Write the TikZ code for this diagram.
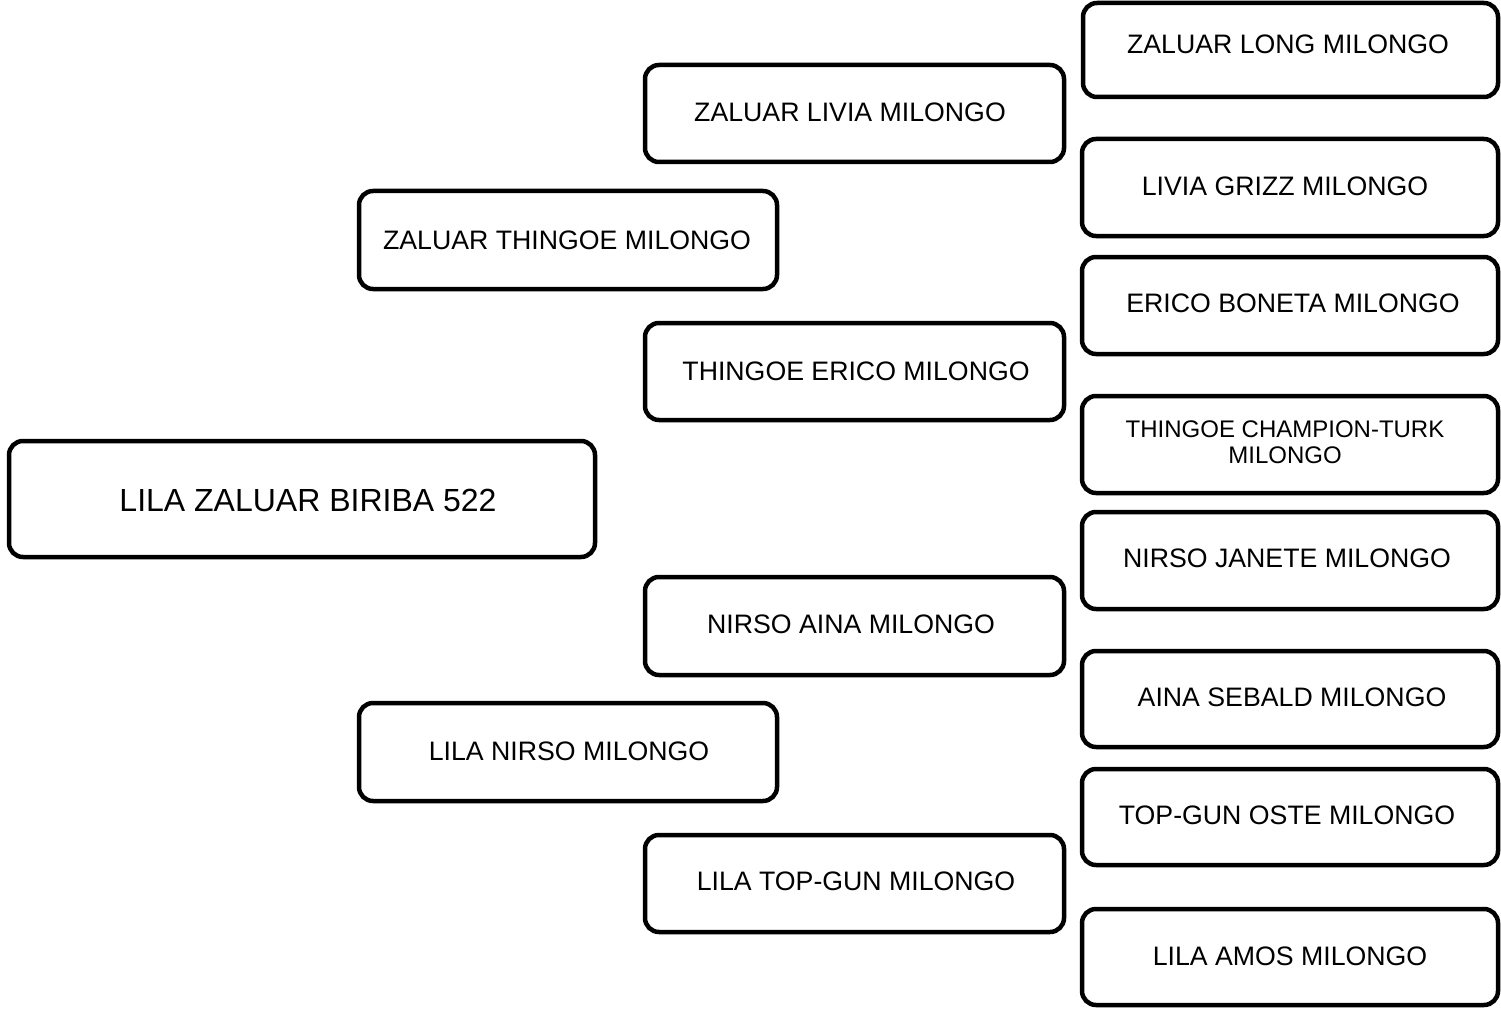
\documentclass[tikz,border=0pt]{standalone}
\usepackage{fontspec}
\setmainfont{Liberation Sans}
\begin{document}
\begin{tikzpicture}[x=1pt,y=-1pt,
  pbox/.style={draw=black,line width=4.5pt,rounded corners=14pt,fill=white},
  ptext/.style={font=\fontsize{26.7}{29}\selectfont,inner sep=0pt,anchor=center,align=center}]
\useasboundingbox (0,0) rectangle (1501,1011);
\fill[white] (0,0) rectangle (1501,1011);
\newcommand{\pedbox}[8]{%
  \path[pbox] (#2,#3) rectangle (#4,#5);
  \node[ptext] (#1) at (#6,#7) {#8};}
% root
\path[pbox] (9,441) rectangle (595,557);
\node[ptext,font=\fontsize{32}{35}\selectfont] (root) at (308,500) {LILA ZALUAR BIRIBA 522};
% generation 1
\pedbox{g1a}{359}{191}{777}{289}{567}{240}{ZALUAR THINGOE MILONGO}
\pedbox{g1b}{359}{703}{777}{801}{569}{751}{LILA NIRSO MILONGO}
% generation 2
\pedbox{g2a}{645}{65}{1064}{162}{850}{112}{ZALUAR LIVIA MILONGO}
\pedbox{g2b}{645}{323}{1064}{420}{856}{371}{THINGOE ERICO MILONGO}
\pedbox{g2c}{645}{577}{1064}{675}{851}{624}{NIRSO AINA MILONGO}
\pedbox{g2d}{645}{835}{1064}{932}{856}{881}{LILA TOP-GUN MILONGO}
% generation 3
\pedbox{g3a}{1083}{3}{1498}{97}{1288}{44}{ZALUAR LONG MILONGO}
\pedbox{g3b}{1082}{139}{1498}{236}{1285}{186}{LIVIA GRIZZ MILONGO}
\pedbox{g3c}{1082}{257}{1498}{354}{1293}{303}{ERICO BONETA MILONGO}
\path[pbox] (1082,396) rectangle (1498,493);
\node[ptext,font=\fontsize{24}{26}\selectfont] (g3d) at (1285,442) {THINGOE CHAMPION-TURK\\MILONGO};
\pedbox{g3e}{1082}{512}{1498}{609}{1287}{558}{NIRSO JANETE MILONGO}
\pedbox{g3f}{1082}{651}{1498}{747}{1292}{697}{AINA SEBALD MILONGO}
\pedbox{g3g}{1082}{769}{1498}{865}{1287}{815}{TOP-GUN OSTE MILONGO}
\pedbox{g3h}{1082}{909}{1498}{1005}{1290}{956}{LILA AMOS MILONGO}
\end{tikzpicture}
\end{document}
